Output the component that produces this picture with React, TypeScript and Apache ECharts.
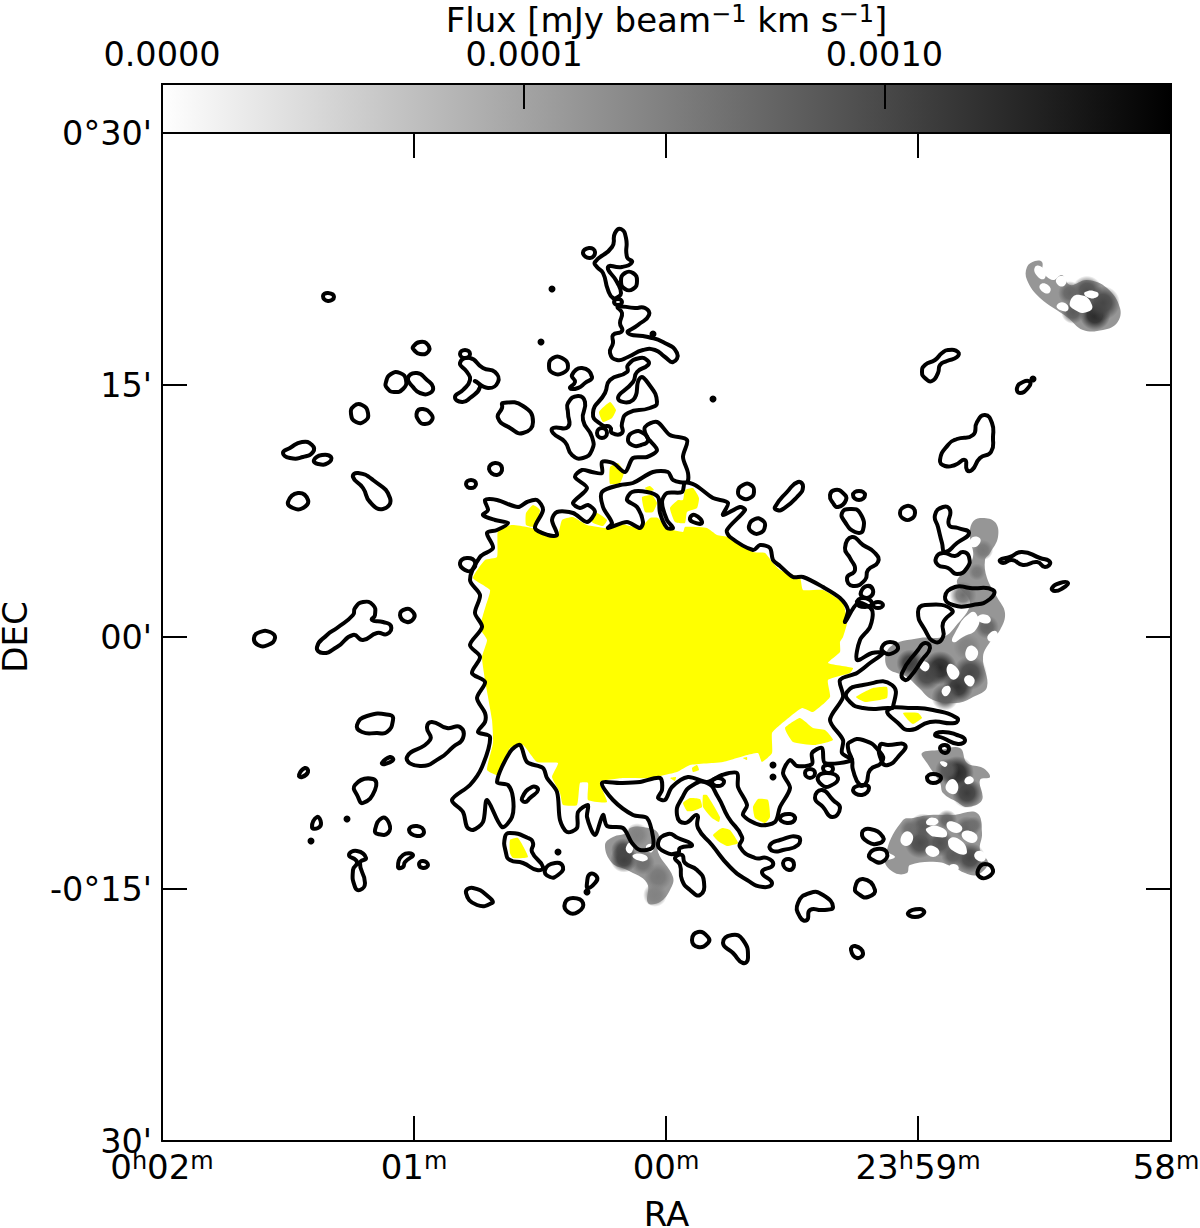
import React, { useEffect, useRef } from "react";
import * as echarts from "echarts";

// All map positions are in map pixels: x grows toward the west, y toward the north.
const RA_TICKS = [0, 252, 504, 756, 1009];
const RA_LABELS = ["{b|0}{s|h}{b|02}{s|m}", "{b|01}{s|m}", "{b|00}{s|m}", "{b|23}{s|h}{b|59}{s|m}", "{b|58}{s|m}{e|}"];
const DEC_TICKS = [0, 252, 504, 756, 1008];
const DEC_LABELS = ["30'", "-0°15'", "00'", "15'", "0°30'"];
const CBAR_TICKS = [0, 0.359, 0.716];
const CBAR_LABELS = ["0.0000", "0.0001", "0.0010"];

const MAIN_CONTOUR = [318,584,308,561,318,546,313,528,320,514,308,496,318,484,310,468,323,459,315,443,323,428,323,419,316,409,328,404,320,374,308,356,290,341,301,329,305,314,311,311,321,319,325,341,340,314,350,324,351,343,346,356,335,359,348,389,358,396,365,379,381,373,385,363,395,349,398,321,405,309,415,313,416,329,426,336,425,324,433,306,441,326,445,315,461,313,470,298,478,291,490,293,491,304,485,323,471,326,451,341,440,358,458,358,478,359,498,363,500,351,496,343,503,341,510,354,526,364,545,359,560,366,575,368,576,354,585,336,581,326,598,316,613,319,618,334,628,353,621,368,628,381,635,375,650,377,650,388,660,393,663,378,690,381,680,388,681,401,668,421,681,444,678,461,695,468,708,478,721,488,710,488,695,481,698,501,708,514,710,531,696,538,683,519,686,531,678,543,661,554,641,564,631,564,618,575,611,581,608,593,598,596,591,591,568,604,565,611,583,631,578,634,561,626,566,638,551,643,533,656,523,658,520,649,505,648,500,639,505,621,511,613,505,613,498,628,496,644,485,649,470,649,465,641,475,634,481,619,478,613,465,619,446,613,450,618,441,634,440,649,458,656,471,658,491,669,506,669,511,661,525,659,526,668,521,684,525,701,508,706,495,719,483,714,485,704,495,691,485,684,471,683,463,669,451,678,440,679,440,668,430,669,420,671,413,664,425,653,411,638,418,633,426,636,433,629,425,619,411,628,395,629,390,621,395,606,386,606,373,613,381,631,375,641,365,639,356,634,335,641,323,641,326,631,321,626,333,621,346,618,335,611,325,608,331,593];

const NORTH_CONTOURS = [
  [433,879,450,894,453,908,459,912,464,903,465,884,470,879,460,874,446,874,455,859,459,848,456,844,451,843,446,851,441,868,435,874],
  [421,888,427,893,433,889,428,883],
  [459,860,463,868,471,868,475,860,471,852,463,852],
  [452,839,456,842,460,839,456,836],
  [456,834,473,833,483,833,487,826,476,816,466,808,486,804,501,799,515,788,511,779,503,784,493,791,481,791,466,784,455,781,448,788,451,798,451,806,460,810,458,818,460,828],
  [486,780,478,783,466,776,465,769,448,761,443,748,431,728,440,716,448,714,450,708,460,708,460,718,466,728,488,733,495,739,486,758,478,763,471,741,456,743,471,759,475,769,486,776],
  [435,708,440,713,445,708,440,703],
  [406,738,416,745,423,739,421,721,430,704,430,691,421,683,410,686,403,699,391,708,391,713,406,714,406,728],
  [387,775,391,783,400,783,406,775,401,768,391,768],
  [410,766,420,773,430,764,423,758,416,753,408,753,413,759],
  [466,702,472,709,481,708,486,701,479,696,470,696],
  [327,672,333,678,340,673,335,666],
  [304,657,309,661,314,657,309,653],
  [298,578,305,583,313,579,310,571,303,571],
  [576,649,581,656,589,656,592,649,588,643,580,643],
  [587,615,593,622,600,621,603,615,598,608,590,609],
  [613,634,625,649,636,659,641,654,635,644,621,632,615,631],
  [528,623,533,626,540,618,531,619],
];

const WEST_CONTOURS = [
  [760,769,763,776,773,781,780,788,786,791,796,789,795,784,785,780,778,776,776,768,770,760,763,763],
  [855,753,861,759,868,759,866,753,858,748],
  [778,681,786,696,795,702,811,706,815,719,823,726,830,718,831,704,829,689,818,683,810,671,805,671,803,681,793,676,783,675],
  [738,628,742,634,750,634,753,628,749,622,742,622],
  [773,626,781,634,788,631,787,616,796,613,807,608,795,598,783,589,780,598,776,614],
  [774,583,781,588,793,585,801,589,807,584,805,573,795,567,786,573,776,576],
  [680,628,688,632,698,628,701,611,693,609,683,619],
  [668,646,673,651,681,648,684,641,676,634,671,638],
  [691,646,697,650,703,646,697,641],
  [683,593,690,604,701,596,713,588,716,579,706,571,703,561,691,555,685,563,693,571,688,583],
  [699,549,705,555,711,551,708,544,701,544],
  [695,538,701,543,710,538,703,534],
  [711,536,716,539,721,536,716,533],
  [690,381,686,393,688,399,701,401,718,389,720,379,708,371,704,358,698,356,691,371],
  [718,396,726,396,743,396,736,384,726,376,720,379],
  [656,364,665,368,676,363,668,355,660,356],
  [661,373,666,376,671,372,666,368],
  [653,343,660,351,671,341,678,333,670,324,661,334],
  [691,351,700,356,707,353,700,346],
  [700,308,708,312,721,304,718,298,706,299],
  [707,286,715,292,725,288,720,279,711,281],
  [693,253,701,262,713,251,706,244,698,246],
  [746,228,758,232,762,228,753,224],
  [689,191,693,195,701,188,695,183],
  [816,271,823,277,831,271,826,264,818,264],
  [765,363,771,367,779,363,771,358],
  [778,393,783,396,787,392,783,388],
  [773,406,781,409,795,406,803,401,796,397,781,403],
  [783,544,793,554,808,553,831,551,828,542,811,536,791,536],
  [756,529,763,536,790,531,781,518,781,504,773,499,763,511],
  [838,581,848,584,860,589,878,583,888,579,883,574,875,579,861,576,850,581,841,578],
  [890,553,898,558,906,558,901,553,893,550],
  [720,494,728,499,736,494,731,488,723,488],
  [740,468,756,491,763,498,768,493,760,481,748,464,743,461],
  [685,449,701,456,730,456,731,434,726,433,701,433,688,439],
  [726,431,751,433,771,431,795,423,793,418,768,419,748,411,736,418],
];

const EAST_CONTOURS = [
  [161,845,166,848,172,844,166,840],
  [251,794,258,799,266,796,266,789,258,787,252,791],
  [224,759,229,767,238,768,244,761,241,752,232,749,225,753],
  [246,763,255,768,265,761,271,754,268,748,258,748,251,754],
  [298,787,303,791,308,787,303,783],
  [298,778,308,783,321,773,333,769,336,759,326,753,313,760,318,754,308,743,300,739,293,744,301,751,308,761,305,769],
  [341,738,361,735,371,719,361,708,348,713,336,723,340,733],
  [189,727,192,735,200,736,206,728,203,720,194,719],
  [255,729,261,732,269,727,270,721,263,717,257,720],
  [121,688,128,693,140,699,150,696,151,689,141,684,128,683],
  [152,681,160,686,169,684,166,678,156,677],
  [126,639,136,648,146,641,141,633,131,633],
  [191,664,196,668,211,661,228,643,221,632,208,639,201,653],
  [92,503,98,509,108,509,113,503,106,496,96,496],
  [155,494,165,506,175,513,191,526,193,533,201,539,211,536,213,526,210,521,221,519,229,515,225,507,215,508,201,501,191,506,175,494,161,488],
  [238,526,244,532,251,529,252,523,245,519],
  [195,416,205,425,228,426,231,421,225,409,215,408,200,409],
  [245,384,268,401,265,414,270,419,285,413,298,414,301,403,291,394,278,383,258,375],
  [220,378,228,384,231,381,223,377],
  [137,366,143,373,146,369,140,364],
  [193,356,211,362,213,351,201,338,196,344],
  [150,314,155,324,159,318,156,313],
  [213,311,220,323,227,318,226,308,216,307],
  [247,311,255,315,262,309,255,305],
  [187,286,195,290,204,283,198,278,203,258,198,251,193,254,191,271,195,279],
  [236,274,241,286,251,286,243,279,241,274],
  [257,277,261,280,266,276,261,273],
  [304,248,311,253,328,243,330,238,315,236],
];

const SOUTH_CONTOURS = [
  [360,343,370,354,376,351,368,343,363,339],
  [343,304,348,308,366,303,371,298,370,289,381,274,375,271,361,278,348,281,344,288],
  [383,271,393,278,401,274,396,266,388,264],
  [435,264,428,267,425,258,426,253,433,258],
  [403,238,411,243,421,238,416,229,406,229],
  [545,358,531,356,520,343,515,326,523,318,535,326,536,313,550,296,568,274,585,261,601,254,610,258,600,269,611,276,605,283,593,283,578,294,580,304,566,324,556,344],
  [550,359,556,363,562,359,556,355],
  [496,298,506,307,516,303,530,296,518,293,516,288,503,289],
  [513,283,520,286,523,278,535,271,542,259,538,246,528,251,520,261,518,276],
  [618,323,628,327,633,322,625,318],
  [608,296,618,301,636,304,636,296,621,291,611,290],
  [621,278,627,282,632,276,627,271],
  [636,238,648,248,661,246,671,234,661,231,648,231,645,221,638,224],
  [530,201,536,209,546,204,546,198,536,194],
  [561,198,570,206,581,201,586,183,581,178,571,188],
  [643,368,648,372,653,368,648,363],
];

const CONTOUR_DOTS = [[871,762],[390,852],[551,742],[379,799],[491,807],[185,322],[149,300],[396,289],[425,249],[611,376],[611,364]];

const GALAXY = [336,611,350,616,365,614,378,611,395,604,400,621,411,624,425,616,445,613,455,618,478,613,488,623,496,623,505,613,521,609,523,614,545,613,555,606,566,604,591,589,603,588,611,578,618,571,638,563,641,551,661,551,681,538,685,518,681,504,678,499,678,489,666,478,691,473,688,468,666,461,668,444,651,429,640,433,618,416,610,408,610,388,600,379,596,388,585,386,561,379,528,376,515,369,488,363,461,363,438,359,445,339,426,341,426,358,418,358,415,336,401,336,398,348,390,364,396,378,375,379,361,396,348,393,336,366,325,371,331,398,330,421,323,461,320,484,325,501,318,513,324,536,328,551,311,563,323,581,335,584];

const YELLOW_PATCHES = [
  [623,413,638,423,651,413,663,411,671,401,653,396,631,399],
  [694,444,711,453,725,454,725,443,703,439],
  [741,428,756,428,760,423,751,417,746,421],
  [437,729,448,739,454,731,450,723,441,719],
  [448,674,456,678,462,669,458,658,448,657],
  [364,628,371,636,378,631,373,614,364,616],
  [428,623,435,628,445,621,441,615,431,618],
  [480,644,490,646,495,638,491,629,483,629],
  [483,653,488,655,492,651,486,650],
  [508,633,516,641,521,641,523,651,531,653,537,643,535,633,525,629,523,618,513,619],
  [521,338,528,343,538,342,540,334,531,330,525,330],
  [541,346,545,346,558,324,557,319,550,323,541,334],
  [551,306,560,313,568,311,576,298,565,295,556,300],
  [591,334,596,342,606,341,608,324,603,318,593,323],
  [530,373,535,376,537,371,531,369],
  [508,363,514,364,513,360],
  [581,383,585,384,585,381],
  [348,301,356,303,366,284,351,283,348,288],
];

const GRAY_PATCHES = [
  [865,874,873,880,880,879,881,869,891,861,900,866,908,856,925,861,945,853,958,833,955,818,941,811,921,811,905,824,878,843,865,861],
  [810,618,818,623,833,619,836,604,828,588,823,581,825,563,835,544,843,528,838,511,828,499,821,484,825,454,811,444,795,438,771,441,756,454,745,464,725,474,728,494,758,503,781,504,793,514,808,538,795,558,801,569,811,584,808,604],
  [760,388,778,391,798,393,805,378,821,373,828,364,818,361,820,341,805,334,795,339,781,348,778,358,765,378],
  [741,321,751,323,768,326,791,326,815,328,820,308,818,291,826,278,815,266,803,268,791,274,775,279,748,276,745,268,733,268,723,279,733,284,725,291],
  [443,296,451,304,465,308,468,313,481,314,496,308,496,289,511,264,508,251,498,239,486,238,485,258,465,271,450,278],
];

// x, y, radius, grey level of the darker emission knots
const DARK_KNOTS = [
  [933,826,9,40],[941,838,10,70],[925,850,9,80],[908,848,7,100],[911,829,7,90],
  [778,473,10,40],[796,454,9,50],[808,468,10,70],[765,466,9,70],[783,444,8,90],[748,478,8,60],[801,546,8,110],[825,514,7,100],[821,591,6,120],[815,569,5,120],[805,494,8,130],
  [795,368,10,40],[805,348,9,60],[785,371,7,90],
  [758,298,9,75],[778,298,8,80],[808,283,9,70],[791,286,7,90],[761,314,8,90],[785,321,6,100],[805,313,7,100],[748,312,6,110],[812,316,5,110],
  [462,282,8,60],[461,291,7,70],[481,278,7,110],[496,264,8,120],[493,246,7,130],[475,306,7,130],
];

// blank holes inside the emission, as outlines
const HOLE_OUTLINES = [
  [740,306,748,309,750,299,741,296],
  [765,313,778,314,785,306,775,304,766,308],
  [785,318,795,318,800,311,790,309],
  [800,308,811,309,815,301,806,299],
  [786,299,795,303,805,289,795,288],
  [765,294,775,293,776,286,766,286],
  [765,321,773,323,776,318,766,316],
  [813,288,821,289,823,281,815,281],
  [788,276,795,276,796,271,790,273],
  [793,508,808,528,815,526,815,513,801,504,791,499],
  [805,493,813,494,815,484,806,481],
  [786,476,795,473,796,464,788,463],
  [815,524,825,526,828,519,818,519],
  [808,601,816,604,818,598,810,594],
  [758,478,766,478,766,471,760,471],
  [781,453,788,454,786,446,781,446],
  [803,464,811,464,811,456,805,456],
  [828,508,835,509,833,501,826,501],
  [785,358,793,361,795,349,786,349],
  [805,364,811,363,810,358,803,358],
  [778,379,785,378,783,374],
  [908,839,918,846,930,836,925,829,913,831],
  [895,836,903,838,906,831,898,831],
  [878,856,886,856,888,849,881,849],
  [895,863,903,864,903,856,896,856],
  [923,849,935,849,935,844,925,844],
  [873,874,881,873,883,863,876,864],
  [471,286,483,286,485,281,475,281],
  [465,296,470,298,470,289,465,289],
  [485,296,491,296,490,289,485,291],
];

const FONT = "DejaVu Sans";
const toPairs = (flat: number[]) => {
  const out: number[][] = [];
  for (let i = 0; i < flat.length; i += 2) out.push([flat[i], flat[i + 1]]);
  return out;
};

const polygonSeries = (polys: number[][], style: any, smooth: number, z: number) => ({
  type: "custom",
  xAxisIndex: 0,
  yAxisIndex: 0,
  z,
  silent: true,
  clip: true,
  encode: { x: 0, y: 1 },
  data: polys.map((p) => [p[0], p[1]]),
  renderItem: (params: any, api: any) => ({
    type: "polygon",
    shape: { points: toPairs(polys[params.dataIndex]).map((pt) => api.coord(pt)), smooth },
    style,
  }),
});

export default function App() {
  const ref = useRef<HTMLDivElement>(null);
  useEffect(() => {
    const chart = echarts.init(ref.current!, undefined, { renderer: "svg" });
    const rich = {
      b: { fontSize: 34, fontFamily: FONT, color: "#000", lineHeight: 36 },
      s: { fontSize: 24, fontFamily: FONT, color: "#000", verticalAlign: "top", lineHeight: 36, padding: [0, 0, 10, 0] },
      e: { width: 10 },
    };
    const tick = { show: true, inside: true, length: 25, lineStyle: { color: "#000", width: 2 } };
    const line = { show: true, onZero: false, lineStyle: { color: "#000", width: 2 } };
    const blob = (g: number, core: number) =>
      new echarts.graphic.RadialGradient(0.5, 0.5, 0.5, [
        { offset: 0, color: `rgba(${g},${g},${g},1)` },
        { offset: core, color: `rgba(${g},${g},${g},0.85)` },
        { offset: 1, color: `rgba(${g},${g},${g},0)` },
      ]);
    const islands = [...NORTH_CONTOURS, ...WEST_CONTOURS, ...EAST_CONTOURS, ...SOUTH_CONTOURS];
    const contourStyle = { fill: "none", stroke: "#000", lineWidth: 4, lineJoin: "round" };
    chart.setOption({
      animation: false,
      backgroundColor: "#fff",
      textStyle: { fontFamily: FONT },
      grid: [
        { left: 162, top: 133, width: 1009, height: 1008, outerBoundsMode: "none" },
        { left: 162, top: 84, width: 1009, height: 49, outerBoundsMode: "none" },
      ],
      xAxis: [
        {
          type: "value", gridIndex: 0, position: "bottom", min: 0, max: 1009, z: 10,
          axisLine: line, splitLine: { show: false },
          axisTick: { ...tick, customValues: RA_TICKS },
          axisLabel: {
            customValues: RA_TICKS, margin: 8, hideOverlap: false, rich,
            formatter: (v: number) => RA_LABELS[RA_TICKS.indexOf(v)] ?? "",
          },
          name: "RA", nameLocation: "middle", nameGap: 56, nameMoveOverlap: false,
          nameTextStyle: { fontSize: 34, fontFamily: FONT, color: "#000" },
        },
        {
          type: "value", gridIndex: 0, position: "top", min: 0, max: 1009, z: 10,
          axisLine: line, splitLine: { show: false },
          axisTick: { ...tick, customValues: RA_TICKS },
          axisLabel: { show: false },
        },
        {
          type: "value", gridIndex: 1, position: "top", min: 0, max: 1, z: 10,
          axisLine: line, splitLine: { show: false },
          axisTick: { ...tick, customValues: CBAR_TICKS },
          axisLabel: {
            customValues: CBAR_TICKS, margin: 13, hideOverlap: false, fontSize: 33.5, fontFamily: FONT, color: "#000",
            formatter: (v: number) => CBAR_LABELS[CBAR_TICKS.indexOf(v)] ?? "",
          },
          name: "{b|Flux [mJy beam}{s|−1}{b| km s}{s|−1}{b|]}",
          nameLocation: "middle", nameGap: 46, nameMoveOverlap: false,
          nameTextStyle: { rich },
        },
      ],
      yAxis: [
        {
          type: "value", gridIndex: 0, position: "left", min: 0, max: 1008, z: 10,
          axisLine: line, splitLine: { show: false },
          axisTick: { ...tick, customValues: DEC_TICKS },
          axisLabel: {
            customValues: DEC_TICKS, margin: 10, hideOverlap: false, fontSize: 33.5, fontFamily: FONT, color: "#000",
            formatter: (v: number) => DEC_LABELS[DEC_TICKS.indexOf(v)] ?? "",
          },
          name: "DEC", nameLocation: "middle", nameGap: 130, nameRotate: 90, nameMoveOverlap: false,
          nameTextStyle: { fontSize: 34, fontFamily: FONT, color: "#000" },
        },
        {
          type: "value", gridIndex: 0, position: "right", min: 0, max: 1008, z: 10,
          axisLine: line, splitLine: { show: false },
          axisTick: { ...tick, customValues: DEC_TICKS },
          axisLabel: { show: false },
        },
        {
          type: "value", gridIndex: 1, position: "left", min: 0, max: 1, show: false,
        },
      ],
      series: [
        {
          type: "custom", xAxisIndex: 2, yAxisIndex: 2, z: 1, silent: true,
          data: [[0, 0]],
          encode: { x: 0, y: 1 },
          renderItem: (_: any, api: any) => {
            const a = api.coord([0, 1]);
            const b = api.coord([1, 0]);
            return {
              type: "rect",
              shape: { x: a[0], y: a[1], width: b[0] - a[0], height: b[1] - a[1] },
              style: {
                fill: new echarts.graphic.LinearGradient(0, 0, 1, 0, [
                  { offset: 0, color: "#ffffff" },
                  { offset: 1, color: "#000000" },
                ]),
                stroke: "#000",
                lineWidth: 2,
              },
            };
          },
        },
        polygonSeries(GRAY_PATCHES, { fill: "rgb(150,150,150)" }, 0.4, 2),
        {
          type: "scatter", xAxisIndex: 0, yAxisIndex: 0, z: 3, silent: true, symbol: "circle",
          symbolSize: (v: number[]) => v[2] * 3.4,
          itemStyle: { opacity: 1 },
          data: DARK_KNOTS.map((k) => ({ value: k.slice(0, 3), itemStyle: { color: blob(k[3], 0.5), opacity: 1 } })),
        },
        polygonSeries(HOLE_OUTLINES, { fill: "#fff" }, 0.6, 4),
        polygonSeries([GALAXY, ...YELLOW_PATCHES], { fill: "#ffff00" }, 0.15, 5),
        polygonSeries([MAIN_CONTOUR], contourStyle, 0.3, 6),
        polygonSeries(islands, contourStyle, 0.55, 6),
        {
          type: "scatter", xAxisIndex: 0, yAxisIndex: 0, z: 6, silent: true, symbol: "circle", symbolSize: 7,
          itemStyle: { color: "#000", opacity: 1 },
          data: CONTOUR_DOTS,
        },
      ],
    });
    return () => chart.dispose();
  }, []);
  return <div ref={ref} style={{ position: "absolute", left: 0, top: 0, width: 1200, height: 1228, background: "#fff" }} />;
}
